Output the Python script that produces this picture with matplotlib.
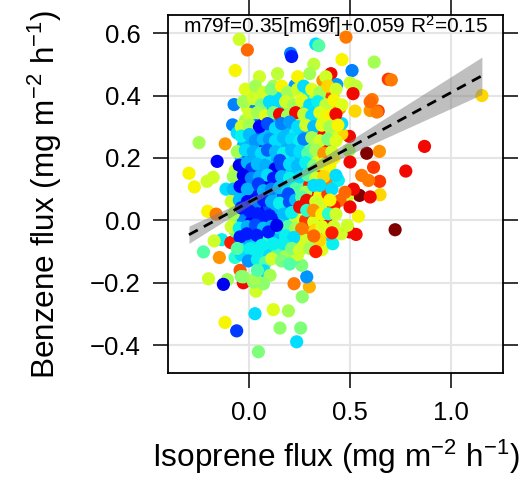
import numpy as np
import matplotlib
matplotlib.use('Agg')
import matplotlib.pyplot as plt
from matplotlib.ticker import FuncFormatter

plt.rcParams['font.family'] = ['Liberation Sans', 'DejaVu Sans']
plt.rcParams['mathtext.fontset'] = 'custom'
plt.rcParams['mathtext.rm'] = 'Liberation Sans'
plt.rcParams['mathtext.it'] = 'Liberation Sans:italic'

# scattered points away from the core (isoprene flux, benzene flux, colour value 0-1)
outer_x = [-0.05, -0.01, -0.07, 0.33, 0.345, 0.48, 0.205, 0.21, 0.46, 0.62,
           0.32, 0.51, 0.405, 0.69, 0.705, 1.155, 0.12, 0.227, 0.50, 0.53,
           0.365, 0.434, 0.515, 0.61, 0.64, -0.076, 0.01, 0.04, -0.083, -0.25,
           -0.12, -0.16, -0.30, -0.273, -0.21, -0.18, -0.116, -0.207, -0.165, 0.87,
           0.777, 0.583, 0.646, 0.495, 0.617, 0.647, 0.547, 0.649, 0.487, 0.517,
           0.542, 0.724, 0.6, 0.525, 0.633, 0.6, 0.497, 0.459, 0.459, 0.5,
           0.442, -0.228, -0.149, -0.203, -0.109, -0.129, -0.121, -0.063, 0.028, 0.045,
           0.119, 0.194, 0.152, 0.255, 0.235, 0.222, 0.298, 0.285, 0.263, 0.033,
           0.26, 0.227, 0.53, 0.497, 0.36, 0.414, 0.456, 0.487, 0.387, 0.302,
           -0.137, -0.175, -0.092, -0.071, -0.046, -0.03, -0.04, 0.136, 0.558, 0.592,
           0.6, 0.45, 0.475, 0.5, 0.37, 0.40]
outer_y = [0.58, 0.546, 0.48, 0.565, 0.56, 0.587, 0.535, 0.525, 0.515, 0.507,
           0.50, 0.48, 0.47, 0.452, 0.45, 0.40, 0.43, 0.432, 0.44, 0.43,
           0.448, 0.435, 0.406, 0.387, 0.35, 0.371, 0.368, 0.39, 0.306, 0.249,
           0.245, 0.189, 0.151, 0.107, 0.125, 0.138, 0.10, 0.029, 0.02, 0.237,
           0.158, 0.215, 0.221, 0.224, 0.17, 0.125, 0.08, 0.082, 0.075, 0.10,
           0.013, -0.03, 0.352, 0.35, 0.347, 0.38, 0.269, 0.277, 0.31, 0.187,
           0.128, -0.101, -0.119, -0.187, -0.19, -0.205, -0.327, -0.354, -0.299, -0.421,
           -0.286, -0.29, -0.345, -0.345, -0.389, -0.203, -0.213, -0.181, -0.245, -0.227,
           -0.144, -0.12, -0.045, -0.037, -0.094, -0.075, -0.043, -0.016, -0.045, -0.075,
           -0.062, -0.066, -0.071, -0.119, -0.16, -0.2, -0.18, -0.112, 0.144, 0.128,
           0.075, 0.064, 0.09, 0.043, 0.064, 0.043]
outer_c = [0.6, 0.8, 0.65, 0.34, 0.45, 0.78, 0.25, 0.15, 0.65, 0.55,
           0.58, 0.25, 0.9, 0.85, 0.78, 0.68, 0.55, 0.28, 0.6, 0.58,
           0.75, 0.28, 0.9, 0.78, 0.85, 0.25, 0.3, 0.75, 0.25, 0.55,
           0.75, 0.12, 0.65, 0.65, 0.6, 0.6, 0.34, 0.65, 0.78, 0.9,
           0.9, 1.0, 0.75, 0.55, 0.85, 0.85, 1.0, 0.68, 0.6, 0.9,
           0.65, 1.0, 0.75, 0.68, 0.78, 0.8, 0.9, 0.68, 0.34, 0.9,
           0.36, 0.45, 0.75, 0.6, 0.55, 0.1, 0.65, 0.18, 0.34, 0.5,
           0.62, 0.55, 0.52, 0.5, 0.34, 0.78, 0.72, 0.27, 0.52, 0.6,
           0.5, 0.45, 0.9, 0.9, 0.62, 0.36, 0.6, 0.6, 0.34, 0.55,
           0.36, 0.6, 0.88, 0.4, 0.82, 0.9, 0.5, 0.47, 0.78, 0.78,
           0.9, 0.8, 0.8, 0.9, 0.65, 0.65]

# dense core, points lying between the rows below (drawn first)
fill_x = [0.0, 0.05, 0.09, 0.13, 0.2, 0.29, 0.33, 0.37, 0.41,
          -0.01, 0.03, 0.07, 0.11, 0.16, 0.2, 0.25, 0.29, 0.33, 0.37, 0.41, 0.45,
          -0.02, 0.02, 0.06, 0.11, 0.14, 0.18, 0.22, 0.26, 0.3, 0.34, 0.38, 0.42,
          -0.06, -0.02, 0.02, 0.05, 0.09, 0.12, 0.15, 0.19, 0.23, 0.26, 0.29, 0.33, 0.37, 0.41,
          -0.03, 0.01, 0.04, 0.08, 0.11, 0.15, 0.19, 0.23, 0.27, 0.31, 0.35, 0.39,
          -0.04, 0.0, 0.04, 0.07, 0.11, 0.14, 0.18, 0.22, 0.26, 0.3, 0.34, 0.38, 0.42,
          -0.07, -0.03, 0.03, 0.06, 0.1, 0.14, 0.18, 0.22, 0.26, 0.3, 0.34, 0.39,
          -0.06, -0.02, 0.02, 0.06, 0.1, 0.14, 0.18, 0.22, 0.26, 0.3, 0.34, 0.38,
          -0.07, -0.03, 0.01, 0.05, 0.09, 0.13, 0.17, 0.21, 0.25, 0.3, 0.35, 0.39,
          -0.06, -0.02, 0.02, 0.06, 0.1, 0.14, 0.18, 0.22, 0.27, 0.31, 0.35, 0.42,
          -0.07, -0.03, 0.01, 0.05, 0.09, 0.15, 0.19, 0.23, 0.28, 0.32, 0.38,
          -0.07, -0.03, 0.01, 0.05, 0.08, 0.12, 0.16, 0.2, 0.24, 0.3, 0.39,
          -0.04, 0.0, 0.04, 0.09, 0.14, 0.19, 0.23, 0.27,
          -0.04, 0.02, 0.06, 0.1, 0.14, 0.18, 0.24]
fill_y = [0.40, 0.405, 0.395, 0.40, 0.405, 0.40, 0.395, 0.405, 0.40,
          0.36, 0.355, 0.365, 0.36, 0.355, 0.365, 0.36, 0.355, 0.36, 0.365, 0.355, 0.36,
          0.32, 0.325, 0.315, 0.32, 0.325, 0.32, 0.315, 0.325, 0.32, 0.315, 0.32, 0.325,
          0.28, 0.285, 0.275, 0.28, 0.285, 0.28, 0.275, 0.285, 0.28, 0.275, 0.285, 0.28, 0.275, 0.28,
          0.24, 0.245, 0.235, 0.24, 0.245, 0.24, 0.235, 0.245, 0.24, 0.235, 0.24, 0.245,
          0.20, 0.205, 0.195, 0.20, 0.205, 0.195, 0.20, 0.205, 0.20, 0.195, 0.20, 0.205, 0.20,
          0.16, 0.165, 0.155, 0.16, 0.165, 0.155, 0.16, 0.165, 0.16, 0.155, 0.16, 0.165,
          0.12, 0.125, 0.115, 0.12, 0.125, 0.115, 0.12, 0.125, 0.12, 0.115, 0.12, 0.125,
          0.08, 0.085, 0.075, 0.08, 0.085, 0.075, 0.08, 0.085, 0.08, 0.075, 0.08, 0.085,
          0.04, 0.045, 0.035, 0.04, 0.045, 0.035, 0.04, 0.045, 0.04, 0.035, 0.04, 0.045,
          0.0, 0.005, -0.005, 0.0, 0.005, -0.005, 0.0, 0.005, 0.0, -0.005, 0.0,
          -0.035, -0.03, -0.04, -0.035, -0.03, -0.04, -0.035, -0.03, -0.035, -0.04, -0.035,
          -0.07, -0.065, -0.075, -0.07, -0.065, -0.075, -0.07, -0.065,
          -0.11, -0.105, -0.115, -0.11, -0.105, -0.115, -0.11]
fill_c = [0.55, 0.6, 0.5, 0.34, 0.62, 0.36, 0.58, 0.55, 0.85,
          0.6, 0.25, 0.55, 0.31, 0.34, 0.5, 0.6, 0.36, 0.65, 0.34, 0.62, 0.75,
          0.55, 0.31, 0.2, 0.34, 0.3, 0.34, 0.31, 0.55, 0.36, 0.6, 0.9, 0.6,
          0.34, 0.31, 0.34, 0.2, 0.31, 0.3, 0.34, 0.31, 0.36, 0.34, 0.31, 0.55, 0.9, 0.6,
          0.31, 0.3, 0.34, 0.15, 0.31, 0.34, 0.3, 0.34, 0.4, 0.5, 0.62, 0.9,
          0.3, 0.1, 0.31, 0.2, 0.34, 0.3, 0.31, 0.34, 0.31, 0.45, 0.62, 0.88, 0.65,
          0.6, 0.15, 0.2, 0.12, 0.3, 0.31, 0.34, 0.31, 0.36, 0.55, 0.85, 0.65,
          0.31, 0.12, 0.2, 0.3, 0.1, 0.34, 0.3, 0.34, 0.45, 0.88, 0.6, 0.78,
          0.55, 0.3, 0.1, 0.15, 0.25, 0.31, 0.2, 0.34, 0.45, 0.9, 0.65, 0.85,
          0.62, 0.12, 0.18, 0.12, 0.2, 0.3, 0.34, 0.31, 0.55, 0.9, 0.6, 0.88,
          0.45, 0.25, 0.12, 0.3, 0.2, 0.31, 0.34, 0.6, 0.85, 0.62, 0.9,
          0.5, 0.31, 0.2, 0.34, 0.12, 0.3, 0.34, 0.45, 0.6, 0.8, 0.65,
          0.36, 0.3, 0.34, 0.4, 0.31, 0.45, 0.55, 0.65,
          0.34, 0.4, 0.5, 0.34, 0.45, 0.55, 0.6]

# dense core, upper part
upper_x = [0.05, 0.14, 0.24, 0.30, 0.38,
           -0.02, 0.03, 0.07, 0.11, 0.16, 0.19, 0.24, 0.27, 0.31, 0.35, 0.39, 0.43,
           -0.03, 0.02, 0.06, 0.10, 0.14, 0.18, 0.22, 0.26, 0.30, 0.34, 0.38, 0.42, 0.46,
           0.0, 0.04, 0.08, 0.12, 0.15, 0.19, 0.23, 0.27, 0.31, 0.35, 0.39, 0.43,
           -0.04, 0.0, 0.05, 0.09, 0.13, 0.16, 0.20, 0.24, 0.28, 0.32, 0.36, 0.40, 0.44,
           -0.04, 0.0, 0.03, 0.07, 0.10, 0.13, 0.17, 0.21, 0.25, 0.27, 0.31, 0.35, 0.39, 0.43]
upper_y = [0.46, 0.47, 0.46, 0.47, 0.46,
           0.42, 0.43, 0.41, 0.42, 0.43, 0.41, 0.42, 0.43, 0.42, 0.41, 0.43, 0.42,
           0.38, 0.39, 0.37, 0.38, 0.375, 0.38, 0.37, 0.385, 0.37, 0.38, 0.37, 0.385, 0.37,
           0.34, 0.345, 0.335, 0.345, 0.34, 0.335, 0.345, 0.34, 0.335, 0.345, 0.335, 0.34,
           0.30, 0.305, 0.30, 0.31, 0.295, 0.31, 0.315, 0.30, 0.305, 0.30, 0.305, 0.30, 0.305,
           0.27, 0.275, 0.256, 0.26, 0.26, 0.255, 0.265, 0.26, 0.255, 0.26, 0.265, 0.255, 0.26, 0.255]
upper_c = [0.6, 0.58, 0.65, 0.55, 0.6,
           0.62, 0.55, 0.6, 0.5, 0.65, 0.55, 0.6, 0.34, 0.62, 0.55, 0.68, 0.6,
           0.55, 0.6, 0.5, 0.34, 0.34, 0.6, 0.55, 0.62, 0.34, 0.36, 0.58, 0.65, 0.62,
           0.6, 0.55, 0.62, 0.5, 0.9, 0.55, 0.9, 0.58, 0.34, 0.62, 0.65, 0.9,
           0.6, 0.55, 0.12, 0.2, 0.34, 0.25, 0.28, 0.34, 0.6, 0.31, 0.62, 0.55, 0.65,
           0.36, 0.31, 0.27, 0.31, 0.27, 0.34, 0.31, 0.34, 0.36, 0.25, 0.55, 0.6, 0.5, 0.62]

# dense core, middle part
mid_x = [-0.06, -0.02, 0.02, 0.06, 0.09, 0.13, 0.17, 0.21, 0.25, 0.29, 0.33, 0.37, 0.41,
         -0.05, -0.01, 0.012, 0.04, 0.08, 0.128, 0.16, 0.152, 0.20, 0.24, 0.28, 0.32, 0.36, 0.40,
         -0.08, -0.03, 0.01, 0.05, 0.09, 0.12, 0.16, 0.20, 0.25, 0.29, 0.33, 0.37, 0.43,
         -0.08, -0.046, -0.01, 0.045, 0.07, 0.11, 0.15, 0.19, 0.23, 0.28, 0.32, 0.35, 0.41]
mid_y = [0.22, 0.225, 0.22, 0.215, 0.225, 0.22, 0.215, 0.225, 0.22, 0.215, 0.225, 0.215, 0.22,
         0.176, 0.185, 0.165, 0.18, 0.175, 0.165, 0.176, 0.192, 0.18, 0.175, 0.185, 0.175, 0.18, 0.175,
         0.14, 0.144, 0.135, 0.14, 0.145, 0.135, 0.14, 0.135, 0.139, 0.145, 0.135, 0.14, 0.144,
         0.10, 0.109, 0.10, 0.117, 0.095, 0.10, 0.105, 0.095, 0.10, 0.09, 0.112, 0.112, 0.10]
mid_c = [0.55, 0.34, 0.3, 0.34, 0.22, 0.31, 0.36, 0.31, 0.34, 0.45, 0.55, 0.75, 0.6,
         0.1, 0.3, 0.18, 0.31, 0.3, 0.1, 0.2, 0.2, 0.34, 0.31, 0.36, 0.5, 0.6, 0.65,
         0.55, 0.1, 0.25, 0.3, 0.34, 0.15, 0.31, 0.36, 0.34, 0.45, 0.6, 0.68, 0.34,
         0.31, 0.12, 0.3, 0.18, 0.3, 0.25, 0.31, 0.34, 0.45, 0.55, 0.34, 0.34, 0.34]

# dense core, lower part
low_x = [-0.09, -0.05, -0.01, 0.03, 0.07, 0.11, 0.15, 0.194, 0.199, 0.23, 0.26, 0.285, 0.33, 0.40,
         -0.08, -0.04, 0.0, 0.04, 0.07, 0.10, 0.13, 0.17, 0.21, 0.25, 0.285, 0.318, 0.36, 0.393, 0.43,
         -0.09, -0.05, -0.01, 0.03, 0.07, 0.11, 0.15, 0.19, 0.23, 0.26, 0.326, 0.36, 0.42,
         -0.046, -0.013, 0.037, 0.095, 0.136, 0.18, 0.22, 0.285, 0.35, 0.32, 0.41,
         -0.06, 0.003, 0.061, 0.119, 0.169, 0.037, 0.21, 0.25, 0.30, 0.33,
         -0.005, 0.04, 0.08, 0.111, 0.16, 0.2,
         0.073, 0.103, 0.02, 0.07, -0.03, 0.028, 0.04]
low_y = [0.06, 0.065, 0.06, 0.055, 0.065, 0.06, 0.055, 0.085, 0.059, 0.065, 0.075, 0.064, 0.06, 0.065,
         0.02, 0.04, 0.03, 0.021, 0.01, 0.015, 0.0, 0.02, 0.025, 0.043, 0.032, 0.032, 0.02, 0.021, 0.02,
         -0.02, -0.025, -0.02, -0.015, -0.025, -0.02, -0.015, -0.02, -0.025, -0.027, -0.032, -0.02, -0.02,
         -0.053, -0.043, -0.048, -0.037, -0.016, -0.05, -0.055, -0.064, -0.064, -0.05, -0.04,
         -0.09, -0.091, -0.08, -0.075, -0.075, -0.101, -0.09, -0.096, -0.09, -0.1,
         -0.13, -0.125, -0.135, -0.123, -0.13, -0.14,
         -0.162, -0.176, -0.197, -0.203, -0.181, -0.187, -0.16]
low_c = [0.6, 0.31, 0.12, 0.25, 0.15, 0.3, 0.36, 0.2, 0.2, 0.31, 0.45, 0.9, 0.6, 0.65,
         0.55, 0.15, 0.15, 0.15, 0.15, 0.15, 0.15, 0.31, 0.36, 0.9, 0.4, 0.75, 0.65, 0.4, 0.6,
         0.6, 0.36, 0.3, 0.2, 0.31, 0.3, 0.34, 0.45, 0.55, 0.78, 0.68, 0.62, 0.6,
         0.15, 0.15, 0.15, 0.15, 0.1, 0.36, 0.34, 0.6, 0.68, 0.8, 0.88,
         0.45, 0.36, 0.36, 0.36, 0.36, 0.36, 0.5, 0.6, 0.55, 0.88,
         0.27, 0.36, 0.45, 0.6, 0.5, 0.45,
         0.34, 0.55, 0.52, 0.52, 0.52, 0.55, 0.45]

# fit m79f = 0.35 [m69f] + 0.059, with confidence band parameters
slope, intercept, r2 = 0.35, 0.059, 0.15
x_mean, se_mean, se_slope = 0.15, 0.008, 0.059

iso = np.array(outer_x + fill_x + upper_x + mid_x + low_x)
benz = np.array(outer_y + fill_y + upper_y + mid_y + low_y)
col = np.array(outer_c + fill_c + upper_c + mid_c + low_c)

fig = plt.figure(figsize=(5.21, 4.93), dpi=100)
ax = fig.add_axes([0.3225, 0.2434, 0.643, 0.7262])

ax.scatter(iso, benz, c=col, cmap='jet', vmin=0, vmax=1, s=90,
           linewidths=0, zorder=2)

xf = np.linspace(iso.min(), iso.max(), 100)
yf = slope * xf + intercept
hw = np.sqrt(se_mean ** 2 + (se_slope * (xf - x_mean)) ** 2)
ax.fill_between(xf, yf - hw, yf + hw, color='gray', alpha=0.5, lw=0, zorder=3)
ax.plot(xf, yf, color='black', lw=2, dashes=(3.6, 2.5), zorder=4)

ax.set_xlim(-0.404, 1.26)
ax.set_ylim(-0.489, 0.658)
ax.set_xticks([0.0, 0.5, 1.0])
ax.set_yticks([-0.4, -0.2, 0.0, 0.2, 0.4, 0.6])
fmt = FuncFormatter(lambda v, p: ('%.1f' % v).replace('-', '\u2212'))
ax.xaxis.set_major_formatter(fmt)
ax.yaxis.set_major_formatter(fmt)
ax.tick_params(direction='out', length=10.8, width=1.1, labelsize=18.5,
               top=True, right=True, pad=9)
ax.grid(color='#e5e5e5', lw=1.5)
ax.set_axisbelow(True)
for sp in ax.spines.values():
    sp.set_linewidth(1.3)

ax.text(0.5, 0.949, 'm79f=%.2f[m69f]+%.3f R$^2$=%.2f' % (slope, intercept, r2),
        transform=ax.transAxes, ha='center', va='baseline', fontsize=15, zorder=5)

ax.set_xlabel('Isoprene flux (mg m$^{-2}$ h$^{-1}$)', fontsize=22.7, va='baseline')
ax.xaxis.set_label_coords(0.5, -0.2626)
ax.set_ylabel('Benzene flux (mg m$^{-2}$ h$^{-1}$)', fontsize=22.7, va='baseline')
ax.yaxis.set_label_coords(-0.337, 0.5)

plt.savefig('out.png', dpi=100)
